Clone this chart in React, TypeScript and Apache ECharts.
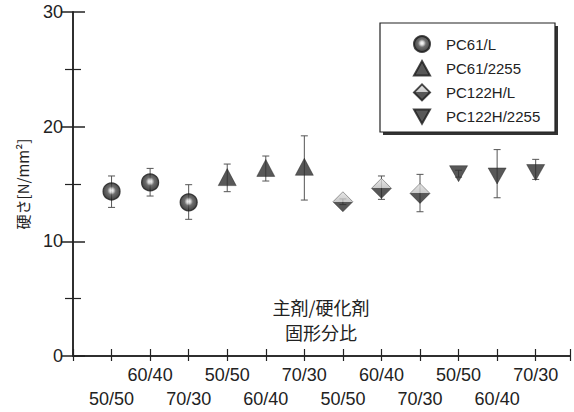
import React, { useEffect, useRef } from "react";
import * as echarts from "echarts";

const categories = ["50/50", "60/40", "70/30", "50/50", "60/40", "70/30", "50/50", "60/40", "70/30", "50/50", "60/40", "70/30"];
const seriesNames = ["PC61/L", "PC61/2255", "PC122H/L", "PC122H/2255"];
const xPositions = [[1, 2, 3], [4, 5, 6], [7, 8, 9], [10, 11, 12]];
const means = [
  [14.35, 15.14, 13.4],
  [15.6, 16.4, 16.5],
  [13.45, 14.62, 14.18],
  [15.9, 15.7, 16.0],
];
const lows = [
  [12.96, 13.95, 11.92],
  [14.33, 15.26, 13.6],
  [13.2, 13.66, 12.58],
  [15.6, 13.8, 15.4],
];
const highs = [
  [15.7, 16.36, 14.94],
  [16.74, 17.44, 19.2],
  [13.7, 15.7, 15.84],
  [16.2, 18.0, 17.15],
];
const yTicks = [0, 10, 20, 30];
const axisTitleLines = ["主剤/硬化剤", "固形分比"];

const DOWN_TRI = "path://M0,0 L10,0 L5,9 Z";
const UP_TRI = "path://M5,0 L10,9 L0,9 Z";

const circleFill = new echarts.graphic.RadialGradient(0.5, 0.45, 0.5, [
  { offset: 0, color: "#ffffff" },
  { offset: 0.22, color: "#d0d0d0" },
  { offset: 0.5, color: "#4a4a4a" },
  { offset: 1, color: "#1a1a1a" },
]);
const diamondFill = new echarts.graphic.LinearGradient(0, 0, 0, 1, [
  { offset: 0, color: "#e2e2e2" },
  { offset: 0.49, color: "#bcbcbc" },
  { offset: 0.5, color: "#2e2e2e" },
  { offset: 1, color: "#2a2a2a" },
]);

const symbols = ["circle", UP_TRI, "diamond", DOWN_TRI];
const sizes = [17, [18, 17], 20, [18, 16]];
const fills = [circleFill, "#2e2e2e", diamondFill, "#2e2e2e"];

export default function App() {
  const ref = useRef<HTMLDivElement>(null);
  useEffect(() => {
    const chart = echarts.init(ref.current!, null, { renderer: "svg" });
    const font = "'Liberation Sans', Arial, sans-serif";
    const jp = "'Noto Sans CJK JP', sans-serif";

    const errData: number[][] = [];
    xPositions.forEach((xs, s) => xs.forEach((x, i) => errData.push([x, lows[s][i], highs[s][i]])));

    const scatterSeries = seriesNames.map((name, s) => ({
      name,
      type: "scatter",
      symbol: symbols[s],
      symbolSize: sizes[s],
      itemStyle: { color: fills[s], borderColor: "#1a1a1a", borderWidth: s === 0 ? 1.2 : 0.5 },
      z: 5,
      data: xPositions[s].map((x, i) => [x, means[s][i]]),
    }));

    const xAxisCommon = {
      type: "value",
      min: 0,
      max: 12.89,
      interval: 1,
      splitLine: { show: false },
      axisLine: { show: true, lineStyle: { color: "#222", width: 1.5 } },
    };
    const yAxisCommon = {
      type: "value",
      min: 0,
      max: 30,
      interval: 10,
      splitLine: { show: false },
      minorSplitLine: { show: false },
      axisLine: { show: true, lineStyle: { color: "#222", width: 1.5 } },
      axisTick: { show: true, inside: true, length: 12, lineStyle: { color: "#222", width: 1.5 } },
      minorTick: { show: true, splitNumber: 2, length: 8, lineStyle: { color: "#222", width: 1.2 } },
    };

    chart.setOption({
      animation: false,
      backgroundColor: "#fff",
      grid: { left: 73, right: 4, top: 12, bottom: 56 },
      xAxis: [
        {
          ...xAxisCommon,
          position: "bottom",
          axisTick: { show: true, inside: true, length: 7, lineStyle: { color: "#222", width: 1.2 } },
          axisLabel: {
            show: true,
            margin: 7,
            fontSize: 18,
            lineHeight: 24,
            color: "#222",
            fontFamily: font,
            formatter: (v: number) => {
              const i = Math.round(v) - 1;
              if (Math.abs(v - Math.round(v)) > 1e-6 || i < 0 || i >= categories.length) return "";
              return i % 2 === 0 ? "\n" + categories[i] : categories[i];
            },
          },
        },
        {
          ...xAxisCommon,
          position: "top",
          axisTick: { show: true, inside: true, length: 5, lineStyle: { color: "#222", width: 1.2 } },
          axisLabel: { show: false },
        },
      ],
      yAxis: [
        {
          ...yAxisCommon,
          position: "left",
          name: "硬さ[N/mm²]",
          nameLocation: "middle",
          nameRotate: 90,
          nameGap: 43,
          nameTextStyle: { fontSize: 15, color: "#222", fontFamily: jp },
          axisLabel: {
            show: true,
            margin: 10,
            fontSize: 18,
            color: "#222",
            fontFamily: font,
            formatter: (v: number) => (yTicks.includes(v) ? String(v) : ""),
          },
        },
        {
          ...yAxisCommon,
          position: "right",
          axisLabel: { show: false },
        },
      ],
      legend: {
        orient: "vertical",
        left: 408,
        top: 30,
        itemWidth: 16,
        itemHeight: 16,
        itemGap: 7,
        selectedMode: false,
        z: 10,
        textStyle: { fontSize: 15, color: "#222", fontFamily: font, padding: [0, 0, 0, 11] },
        data: seriesNames.map((n, s) => ({ name: n, icon: symbols[s] })),
      },
      graphic: [
        { type: "rect", z: 1, shape: { x: 383, y: 26, width: 175, height: 109 }, style: { fill: "#333" } },
        { type: "rect", z: 2, shape: { x: 380, y: 23, width: 175, height: 109 }, style: { fill: "#fff", stroke: "#222", lineWidth: 1.2 } },
        {
          type: "text",
          z: 3,
          x: 321,
          y: 307,
          style: { text: axisTitleLines[0], fontSize: 18, fill: "#222", fontFamily: jp, align: "center", verticalAlign: "middle" },
        },
        {
          type: "text",
          z: 3,
          x: 321,
          y: 332,
          style: { text: axisTitleLines[1], fontSize: 18, fill: "#222", fontFamily: jp, align: "center", verticalAlign: "middle" },
        },
      ],
      series: [
        {
          name: "err",
          type: "custom",
          z: 3,
          data: errData,
          renderItem: (_p: any, api: any) => {
            const x = api.value(0);
            const top = api.coord([x, api.value(2)]);
            const bot = api.coord([x, api.value(1)]);
            const w = 3.5;
            const st = { stroke: "#555", lineWidth: 1 };
            return {
              type: "group",
              children: [
                { type: "line", shape: { x1: top[0], y1: top[1], x2: bot[0], y2: bot[1] }, style: st },
                { type: "line", shape: { x1: top[0] - w, y1: top[1], x2: top[0] + w, y2: top[1] }, style: st },
                { type: "line", shape: { x1: bot[0] - w, y1: bot[1], x2: bot[0] + w, y2: bot[1] }, style: st },
              ],
            };
          },
        },
        ...scatterSeries,
      ],
    });
    return () => chart.dispose();
  }, []);
  return <div ref={ref} style={{ position: "fixed", left: 0, top: 0, width: 574, height: 412 }} />;
}
